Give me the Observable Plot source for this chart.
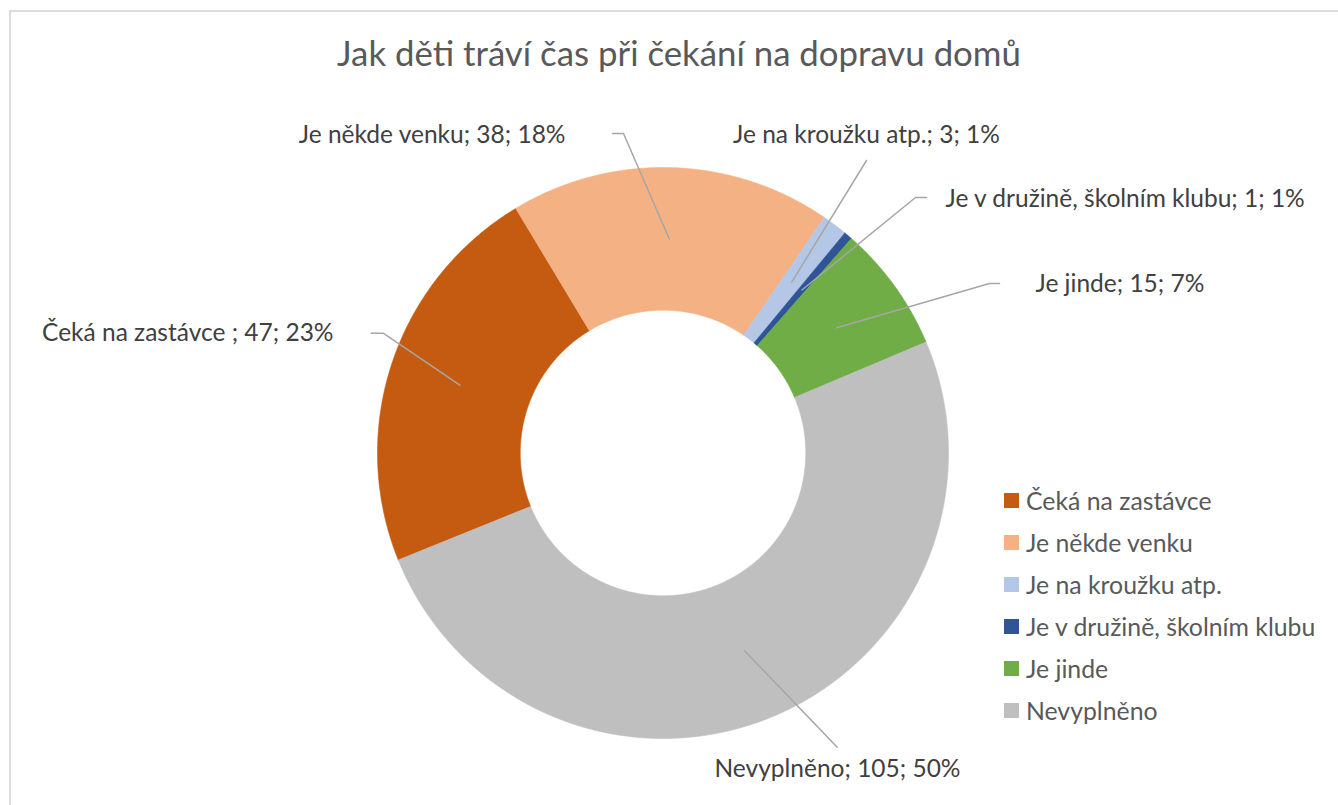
<!DOCTYPE html>
<html>
<head>
<meta charset="utf-8">
<script src="https://cdn.jsdelivr.net/npm/d3@7"></script>
<script src="https://cdn.jsdelivr.net/npm/@observablehq/plot@0.6"></script>
<style>
  body { margin: 0; background: #fff; font-family: Lato, "Open Sans", sans-serif; }
  #wrap { position: relative; width: 1338px; height: 805px; overflow: hidden; }
  #border { position: absolute; left: 9px; top: 10px; width: 1400px; height: 900px; border: 2px solid #dcdcdc; box-sizing: border-box; }
  #chart { position: absolute; left: 0; top: 0; }
  #title { position: absolute; left: 0; width: 1358px; top: 33px; text-align: center; font-size: 34.8px; line-height: 40px; color: #595959; white-space: nowrap; }
  #legend { position: absolute; left: 1004px; top: 479px; }
  .li { height: 42px; display: flex; align-items: center; font-size: 24.8px; color: #595959; white-space: nowrap; }
  .sw { width: 15px; height: 15px; margin-right: 7px; flex: none; }
</style>
</head>
<body>
<div id="wrap">
  <div id="border"></div>
  <div id="chart"></div>
  <div id="title">Jak děti tráví čas při čekání na dopravu domů</div>
  <div id="legend"></div>
</div>
<script>
// ---- data ----
const categories = ["Čeká na zastávce ", "Je někde venku", "Je na kroužku atp.", "Je v družině, školním klubu", "Je jinde", "Nevyplněno"];
const counts = [47, 38, 3, 1, 15, 105];
const percentLabels = ["23%", "18%", "1%", "1%", "7%", "50%"];

// ---- styles / layout ----
const colors = ["#C55A11", "#F4B183", "#B4C7E7", "#2F5597", "#70AD47", "#BFBFBF"];
const firstSliceAngleDeg = 248;
const innerRatio = 0.5;
const cx = 662.5, cy = 452.5, Rpx = 285.5;
const toU = ([px, py]) => [(px - cx) / Rpx, (cy - py) / Rpx];
const labelLayout = [
  {anchor: "end",    x: 333,  y: 333, leader: [[370.7, 332.7], [382.7, 332.7]]},
  {anchor: "end",    x: 565,  y: 135, leader: [[612, 133], [623, 133]]},
  {anchor: "middle", x: 866,  y: 135, leader: [[866, 160]]},
  {anchor: "start",  x: 945,  y: 199, leader: [[926, 197], [915, 197]]},
  {anchor: "start",  x: 1035, y: 284, leader: [[999, 283], [989, 283]]},
  {anchor: "middle", x: 837,  y: 769, leader: [[836.7, 746.7]]}
];

// ---- geometry from data ----
const start = firstSliceAngleDeg * Math.PI / 180;
const arcs = d3.pie().sort(null).value(d => d).startAngle(start).endAngle(start + 2 * Math.PI)(counts);

function slicePolygon(a0, a1) {
  const n = Math.max(2, Math.ceil((a1 - a0) / (Math.PI / 720)));
  const pts = [];
  for (let i = 0; i <= n; i++) { const a = a0 + (a1 - a0) * i / n; pts.push([Math.sin(a), Math.cos(a)]); }
  for (let i = n; i >= 0; i--) { const a = a0 + (a1 - a0) * i / n; pts.push([innerRatio * Math.sin(a), innerRatio * Math.cos(a)]); }
  pts.push(pts[0]);
  return pts;
}

const sliceMarks = arcs.map((a, i) =>
  Plot.line(slicePolygon(a.startAngle, a.endAngle), {x: d => d[0], y: d => d[1], fill: colors[i], stroke: colors[i], strokeWidth: 0.6})
);

const leaderRows = [];
arcs.forEach((a, i) => {
  const mid = (a.startAngle + a.endAngle) / 2;
  const rc = (1 + innerRatio) / 2;
  labelLayout[i].leader.forEach(p => { const [x, y] = toU(p); leaderRows.push({cat: categories[i], x, y}); });
  leaderRows.push({cat: categories[i], x: rc * Math.sin(mid), y: rc * Math.cos(mid)});
});

const labelRows = categories.map((c, i) => {
  const [x, y] = toU([labelLayout[i].x, labelLayout[i].y]);
  return {text: `${c}; ${counts[i]}; ${percentLabels[i]}`, x, y, anchor: labelLayout[i].anchor};
});

const textMarks = ["start", "middle", "end"].map(anchor =>
  Plot.text(labelRows.filter(d => d.anchor === anchor), {x: "x", y: "y", text: "text", textAnchor: anchor, fontSize: 24.5, fill: "#404040"})
);

const chart = Plot.plot({
  width: 1338,
  height: 805,
  marginLeft: 377,
  marginRight: 390,
  marginTop: 167,
  marginBottom: 67,
  x: {domain: [-1, 1], axis: null},
  y: {domain: [-1, 1], axis: null},
  style: {background: "transparent", fontFamily: "Lato, 'Open Sans', sans-serif", overflow: "visible"},
  marks: [
    ...sliceMarks,
    Plot.line(leaderRows, {x: "x", y: "y", z: "cat", stroke: "#a6a6a6", strokeWidth: 1.5}),
    ...textMarks
  ]
});
document.getElementById("chart").appendChild(chart);

// legend
const legend = document.getElementById("legend");
categories.forEach((c, i) => {
  const row = document.createElement("div");
  row.className = "li";
  const sw = document.createElement("span");
  sw.className = "sw";
  sw.style.background = colors[i];
  const t = document.createElement("span");
  t.textContent = c.trim();
  row.appendChild(sw); row.appendChild(t);
  legend.appendChild(row);
});
</script>
</body>
</html>
